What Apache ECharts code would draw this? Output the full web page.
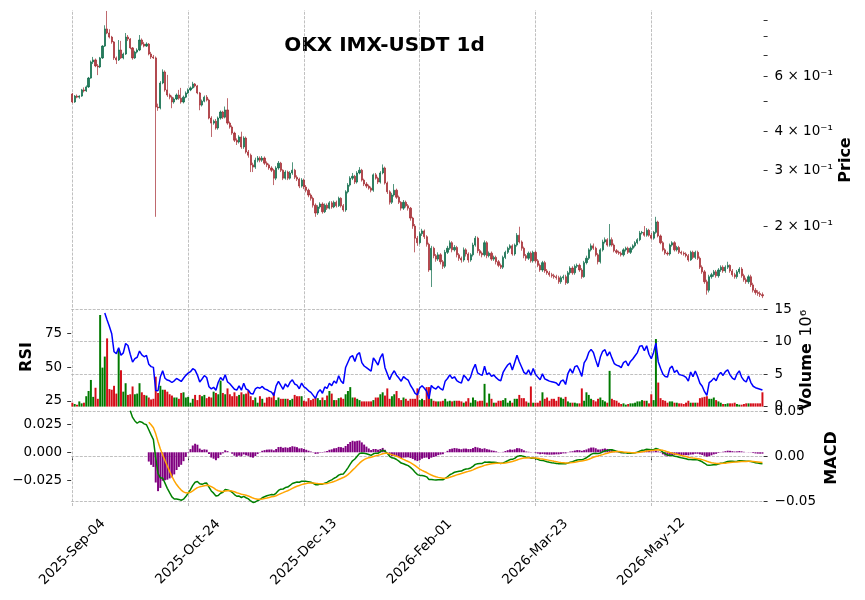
<!DOCTYPE html>
<html>
<head>
<meta charset="utf-8">
<title>OKX IMX-USDT 1d</title>
<script src="https://cdn.jsdelivr.net/npm/echarts@6/dist/echarts.min.js"></script>
<style>
  html, body { margin: 0; padding: 0; background: #fff; }
  #chart { width: 865px; height: 600px; }
</style>
</head>
<body>
<div id="chart"></div>
<script>
// daily candles from 2025-09-04 (open of a day = previous close)
const firstDay = Date.UTC(2025, 8, 4)
const firstOpen = 0.526

const closes = [
  0.496, 0.518, 0.514, 0.518, 0.542, 0.538, 0.554, 0.591, 0.665, 0.675,
  0.646, 0.641, 0.685, 0.747, 0.847, 0.822, 0.798, 0.770, 0.685, 0.675,
  0.726, 0.685, 0.705, 0.798, 0.787, 0.737, 0.685, 0.715, 0.726, 0.781,
  0.758, 0.747, 0.758, 0.705, 0.690, 0.685, 0.478, 0.475, 0.570, 0.618,
  0.542, 0.522, 0.514, 0.496, 0.507, 0.522, 0.510, 0.496, 0.514, 0.530,
  0.542, 0.550, 0.566, 0.558, 0.530, 0.485, 0.499, 0.514, 0.503, 0.441,
  0.425, 0.431, 0.410, 0.441, 0.461, 0.444, 0.468, 0.425, 0.413, 0.395,
  0.375, 0.370, 0.384, 0.357, 0.381, 0.344, 0.336, 0.313, 0.308, 0.324,
  0.329, 0.324, 0.329, 0.317, 0.313, 0.306, 0.301, 0.284, 0.306, 0.317,
  0.301, 0.284, 0.297, 0.284, 0.295, 0.301, 0.286, 0.282, 0.268, 0.280,
  0.266, 0.260, 0.251, 0.245, 0.233, 0.220, 0.230, 0.235, 0.222, 0.233,
  0.228, 0.237, 0.230, 0.238, 0.232, 0.245, 0.232, 0.225, 0.257, 0.270,
  0.284, 0.288, 0.276, 0.295, 0.301, 0.280, 0.272, 0.268, 0.264, 0.260,
  0.291, 0.284, 0.276, 0.295, 0.306, 0.274, 0.257, 0.238, 0.251, 0.260,
  0.247, 0.238, 0.228, 0.238, 0.232, 0.228, 0.212, 0.200, 0.183, 0.177,
  0.189, 0.193, 0.185, 0.175, 0.145, 0.170, 0.161, 0.157, 0.162, 0.154,
  0.149, 0.165, 0.170, 0.177, 0.168, 0.171, 0.162, 0.158, 0.156, 0.168,
  0.163, 0.156, 0.162, 0.174, 0.183, 0.167, 0.164, 0.162, 0.177, 0.161,
  0.164, 0.157, 0.159, 0.154, 0.150, 0.148, 0.159, 0.165, 0.170, 0.173,
  0.163, 0.174, 0.187, 0.178, 0.170, 0.161, 0.158, 0.164, 0.155, 0.165,
  0.155, 0.150, 0.145, 0.153, 0.144, 0.142, 0.140, 0.139, 0.138, 0.137,
  0.133, 0.137, 0.138, 0.132, 0.142, 0.147, 0.142, 0.149, 0.150, 0.145,
  0.138, 0.153, 0.158, 0.168, 0.173, 0.170, 0.162, 0.154, 0.168, 0.178,
  0.181, 0.174, 0.181, 0.174, 0.167, 0.165, 0.164, 0.162, 0.168, 0.170,
  0.165, 0.170, 0.173, 0.177, 0.181, 0.190, 0.191, 0.187, 0.194, 0.187,
  0.183, 0.191, 0.206, 0.186, 0.177, 0.168, 0.164, 0.163, 0.174, 0.177,
  0.168, 0.171, 0.165, 0.164, 0.163, 0.161, 0.156, 0.165, 0.159, 0.165,
  0.158, 0.148, 0.143, 0.133, 0.125, 0.138, 0.140, 0.143, 0.139, 0.145,
  0.148, 0.144, 0.148, 0.150, 0.144, 0.140, 0.138, 0.143, 0.146, 0.139,
  0.135, 0.133, 0.138, 0.130, 0.125, 0.123, 0.122, 0.121, 0.120
]

const highs = [
  0.530, 0.522, 0.524, 0.521, 0.546, 0.552, 0.560, 0.596, 0.672, 0.690,
  0.682, 0.655, 0.690, 0.752, 0.870, 0.966, 0.845, 0.805, 0.775, 0.692,
  0.781, 0.776, 0.712, 0.822, 0.810, 0.792, 0.742, 0.722, 0.735, 0.810,
  0.790, 0.770, 0.768, 0.764, 0.716, 0.700, 0.692, 0.490, 0.578, 0.630,
  0.625, 0.605, 0.528, 0.520, 0.513, 0.528, 0.542, 0.550, 0.520, 0.536,
  0.548, 0.556, 0.575, 0.570, 0.562, 0.534, 0.505, 0.520, 0.522, 0.508,
  0.447, 0.436, 0.438, 0.446, 0.466, 0.465, 0.480, 0.510, 0.430, 0.418,
  0.399, 0.380, 0.389, 0.399, 0.386, 0.385, 0.349, 0.340, 0.318, 0.330,
  0.334, 0.333, 0.334, 0.333, 0.321, 0.316, 0.310, 0.304, 0.310, 0.322,
  0.320, 0.303, 0.301, 0.300, 0.299, 0.319, 0.304, 0.290, 0.285, 0.284,
  0.283, 0.270, 0.263, 0.254, 0.248, 0.236, 0.233, 0.238, 0.238, 0.236,
  0.236, 0.240, 0.240, 0.241, 0.241, 0.248, 0.247, 0.235, 0.260, 0.274,
  0.288, 0.295, 0.291, 0.299, 0.308, 0.304, 0.283, 0.276, 0.271, 0.267,
  0.294, 0.295, 0.287, 0.299, 0.314, 0.309, 0.277, 0.260, 0.255, 0.272,
  0.263, 0.250, 0.240, 0.242, 0.241, 0.235, 0.230, 0.214, 0.203, 0.186,
  0.192, 0.196, 0.195, 0.187, 0.177, 0.173, 0.172, 0.163, 0.165, 0.164,
  0.156, 0.168, 0.173, 0.180, 0.179, 0.174, 0.173, 0.164, 0.160, 0.171,
  0.170, 0.165, 0.164, 0.177, 0.186, 0.185, 0.169, 0.166, 0.180, 0.179,
  0.166, 0.166, 0.161, 0.161, 0.156, 0.152, 0.161, 0.167, 0.172, 0.175,
  0.175, 0.176, 0.190, 0.199, 0.180, 0.172, 0.163, 0.166, 0.166, 0.167,
  0.167, 0.157, 0.152, 0.155, 0.155, 0.146, 0.144, 0.142, 0.141, 0.140,
  0.139, 0.139, 0.140, 0.140, 0.144, 0.149, 0.149, 0.151, 0.152, 0.152,
  0.147, 0.155, 0.161, 0.170, 0.176, 0.176, 0.172, 0.164, 0.170, 0.181,
  0.184, 0.183, 0.203, 0.184, 0.176, 0.169, 0.167, 0.166, 0.170, 0.172,
  0.172, 0.172, 0.175, 0.179, 0.183, 0.193, 0.193, 0.200, 0.197, 0.196,
  0.190, 0.193, 0.214, 0.208, 0.188, 0.179, 0.170, 0.166, 0.176, 0.179,
  0.179, 0.173, 0.173, 0.167, 0.166, 0.165, 0.163, 0.167, 0.167, 0.167,
  0.167, 0.160, 0.150, 0.145, 0.135, 0.140, 0.142, 0.145, 0.145, 0.147,
  0.150, 0.150, 0.150, 0.154, 0.151, 0.146, 0.142, 0.145, 0.148, 0.148,
  0.141, 0.137, 0.140, 0.140, 0.132, 0.127, 0.125, 0.124, 0.123
]

const lows = [
  0.492, 0.493, 0.510, 0.508, 0.515, 0.532, 0.534, 0.550, 0.588, 0.655,
  0.640, 0.604, 0.636, 0.680, 0.742, 0.815, 0.790, 0.760, 0.675, 0.655,
  0.670, 0.680, 0.678, 0.700, 0.775, 0.730, 0.676, 0.680, 0.708, 0.720,
  0.750, 0.740, 0.742, 0.698, 0.680, 0.680, 0.214, 0.465, 0.470, 0.565,
  0.535, 0.515, 0.506, 0.474, 0.490, 0.503, 0.504, 0.490, 0.491, 0.510,
  0.526, 0.537, 0.546, 0.552, 0.525, 0.467, 0.480, 0.495, 0.498, 0.437,
  0.384, 0.420, 0.405, 0.405, 0.436, 0.438, 0.440, 0.420, 0.408, 0.390,
  0.370, 0.362, 0.366, 0.352, 0.352, 0.340, 0.330, 0.297, 0.297, 0.304,
  0.319, 0.319, 0.320, 0.313, 0.308, 0.302, 0.297, 0.270, 0.280, 0.302,
  0.297, 0.280, 0.281, 0.280, 0.281, 0.291, 0.282, 0.278, 0.264, 0.265,
  0.262, 0.256, 0.247, 0.241, 0.229, 0.214, 0.217, 0.227, 0.219, 0.220,
  0.225, 0.226, 0.227, 0.228, 0.229, 0.230, 0.229, 0.222, 0.222, 0.254,
  0.267, 0.280, 0.272, 0.273, 0.292, 0.277, 0.268, 0.264, 0.261, 0.256,
  0.257, 0.281, 0.272, 0.273, 0.292, 0.271, 0.253, 0.234, 0.235, 0.248,
  0.244, 0.235, 0.224, 0.225, 0.229, 0.224, 0.208, 0.196, 0.165, 0.173,
  0.175, 0.186, 0.182, 0.172, 0.143, 0.128, 0.158, 0.154, 0.155, 0.151,
  0.146, 0.147, 0.163, 0.168, 0.165, 0.166, 0.159, 0.155, 0.153, 0.154,
  0.160, 0.153, 0.154, 0.160, 0.172, 0.164, 0.161, 0.159, 0.160, 0.158,
  0.159, 0.155, 0.155, 0.151, 0.148, 0.146, 0.146, 0.157, 0.163, 0.168,
  0.161, 0.161, 0.172, 0.176, 0.167, 0.158, 0.155, 0.156, 0.153, 0.153,
  0.153, 0.148, 0.143, 0.143, 0.142, 0.140, 0.138, 0.137, 0.136, 0.135,
  0.131, 0.131, 0.135, 0.130, 0.131, 0.140, 0.140, 0.140, 0.147, 0.143,
  0.136, 0.137, 0.151, 0.156, 0.166, 0.168, 0.160, 0.151, 0.152, 0.166,
  0.176, 0.172, 0.172, 0.172, 0.165, 0.163, 0.162, 0.160, 0.160, 0.166,
  0.163, 0.163, 0.168, 0.171, 0.175, 0.179, 0.188, 0.185, 0.185, 0.185,
  0.181, 0.181, 0.189, 0.184, 0.175, 0.166, 0.162, 0.161, 0.161, 0.172,
  0.166, 0.166, 0.163, 0.162, 0.161, 0.159, 0.154, 0.155, 0.157, 0.157,
  0.156, 0.146, 0.141, 0.131, 0.121, 0.123, 0.136, 0.138, 0.137, 0.137,
  0.143, 0.142, 0.142, 0.146, 0.142, 0.138, 0.136, 0.136, 0.141, 0.137,
  0.133, 0.131, 0.131, 0.128, 0.123, 0.121, 0.120, 0.119, 0.118
]

// volume in millions
const volumes = [
  0.6, 0.4, 0.3, 0.8, 0.5, 0.6, 1.6, 2.4, 4.1, 1.5,
  2.9, 1.2, 14.1, 6.0, 7.7, 10.5, 2.7, 2.6, 3.2, 2.0,
  8.8, 5.6, 2.3, 3.6, 1.8, 1.9, 3.1, 1.9, 2.0, 3.6,
  2.2, 1.8, 1.7, 1.4, 1.1, 1.2, 4.6, 2.1, 3.2, 2.6,
  2.6, 2.3, 1.9, 1.7, 1.4, 1.4, 1.2, 2.1, 2.2, 1.4,
  1.5, 0.6, 1.2, 1.8, 1.0, 1.8, 1.6, 1.8, 1.3, 1.5,
  1.4, 2.3, 2.1, 1.9, 4.0, 2.1, 1.9, 2.8, 1.9, 1.6,
  2.2, 1.6, 1.8, 2.2, 1.9, 2.0, 2.5, 1.6, 1.0, 1.4,
  0.6, 1.6, 1.2, 0.6, 1.4, 1.5, 1.4, 2.2, 1.0, 1.4,
  1.2, 1.2, 1.2, 1.2, 1.0, 1.2, 1.8, 1.6, 1.6, 1.6,
  0.9, 0.8, 1.3, 1.0, 1.2, 1.4, 1.3, 1.0, 1.4, 1.0,
  1.7, 2.4, 2.0, 1.0, 1.0, 1.3, 1.4, 1.2, 1.9, 2.4,
  3.0, 1.4, 1.4, 1.2, 1.0, 0.8, 0.8, 0.8, 0.8, 0.8,
  1.0, 1.4, 1.4, 1.9, 2.2, 1.7, 2.8, 1.2, 1.6, 1.9,
  2.4, 1.3, 1.0, 1.4, 1.2, 0.9, 1.2, 1.2, 1.2, 2.8,
  1.0, 1.2, 1.0, 3.0, 3.0, 1.2, 0.9, 0.8, 0.8, 0.8,
  0.9, 1.2, 0.8, 0.9, 0.8, 0.9, 0.9, 0.9, 0.8, 0.6,
  0.8, 1.3, 0.6, 1.4, 1.0, 0.8, 0.9, 0.9, 3.5, 0.6,
  2.0, 1.2, 0.6, 0.6, 0.9, 0.9, 1.0, 1.3, 0.6, 0.9,
  0.6, 1.2, 1.2, 1.8, 1.3, 1.3, 0.8, 0.6, 3.1, 0.6,
  0.6, 0.6, 0.9, 2.2, 1.2, 1.4, 0.9, 1.2, 1.2, 0.9,
  1.5, 1.4, 1.2, 1.5, 0.8, 0.6, 0.6, 0.6, 0.5, 0.5,
  2.8, 0.9, 2.2, 1.8, 1.2, 1.0, 0.8, 1.2, 1.4, 1.0,
  0.8, 0.6, 5.5, 1.2, 1.0, 0.9, 0.6, 0.4, 0.5, 0.3,
  0.4, 0.5, 0.5, 0.6, 0.8, 0.8, 1.0, 0.9, 0.9, 0.5,
  1.9, 1.0, 10.4, 3.7, 1.3, 1.0, 0.9, 0.6, 0.8, 0.8,
  0.6, 0.6, 0.5, 0.5, 0.4, 0.6, 0.9, 0.6, 0.6, 0.6,
  0.6, 1.3, 1.4, 1.5, 1.6, 1.2, 1.2, 1.4, 1.0, 0.8,
  0.6, 0.4, 0.4, 0.5, 0.5, 0.5, 0.6, 0.4, 0.3, 0.3,
  0.4, 0.5, 0.5, 0.5, 0.5, 0.5, 0.5, 0.5, 2.2
]

const xTickLabels = ['2025-Sep-04', '2025-Oct-24', '2025-Dec-13', '2026-Feb-01', '2026-Mar-23', '2026-May-12']
const priceTicks = [0.2, 0.3, 0.4, 0.6]
const priceMinorTicks = [0.5, 0.7, 0.8, 0.9]
const rsiTicks = [25, 50, 75]
const volumeTicks = [0, 5, 10, 15]
const macdTicks = [-0.05, 0, 0.05]
const histTicks = [-0.025, 0, 0.025]

const MONTHS = ['Jan', 'Feb', 'Mar', 'Apr', 'May', 'Jun', 'Jul', 'Aug', 'Sep', 'Oct', 'Nov', 'Dec']
const dates = closes.map((_, i) => {
  const d = new Date(firstDay + i * 86400000)
  return d.getUTCFullYear() + '-' + MONTHS[d.getUTCMonth()] + '-' + String(d.getUTCDate()).padStart(2, '0')
})
const opens = closes.map((c, i) => (i === 0 ? firstOpen : closes[i - 1]))

// indicators the way the chart computes them: RSI(14), MACD(12, 26, 9)
function calcRsi(c, n) {
  const out = c.map(() => null)
  let g = 0, l = 0
  for (let i = 1; i <= n; i++) {
    const d = c[i] - c[i - 1]
    if (d > 0) g += d; else l -= d
  }
  g /= n; l /= n
  out[n] = 100 - 100 / (1 + g / l)
  for (let i = n + 1; i < c.length; i++) {
    const d = c[i] - c[i - 1]
    g = (g * (n - 1) + Math.max(d, 0)) / n
    l = (l * (n - 1) + Math.max(-d, 0)) / n
    out[i] = l === 0 ? 100 : 100 - 100 / (1 + g / l)
  }
  return out
}
// recursive ema, hidden until `span` values have been seen
function ema(vals, span) {
  const a = 2 / (span + 1)
  let y = null, cnt = 0
  return vals.map(v => {
    if (v == null) return null
    y = y == null ? v : (1 - a) * y + a * v
    cnt++
    return cnt >= span ? y : null
  })
}
const rsi = calcRsi(closes, 14)
const ema12 = ema(closes, 12)
const ema26 = ema(closes, 26)
const macd = closes.map((_, i) => (ema12[i] == null || ema26[i] == null ? null : ema12[i] - ema26[i]))
const signal = ema(macd, 9)
const hist = macd.map((m, i) => (m == null || signal[i] == null ? null : m - signal[i]))

const UP = '#006340', DOWN = '#a02128'
const VOL_UP = '#007a00', VOL_DOWN = '#d50d18'
const font = { fontFamily: 'DejaVu Sans', fontSize: 13.5, color: '#000' }
const tickLine = { color: '#000', width: 0.8 }
const minus = s => s.replace('-', '\u2212')
const tickSet = new Set(xTickLabels)

const LEFT = 71.2, WIDTH = 692.4
const grids = [
  { left: LEFT, width: WIDTH, top: 10, height: 297.2 },
  { left: LEFT, width: WIDTH, top: 307.2, height: 99.4 },
  { left: LEFT, width: WIDTH, top: 406.6, height: 99.4 }
]

function gridLines(extra) {
  return {
    silent: true,
    symbol: ['none', 'none'],
    z: 1,
    animation: false,
    label: { show: false },
    emphasis: { disabled: true },
    lineStyle: { color: '#b0b0b0', type: [3, 1.3], width: 0.8 },
    data: xTickLabels.map(d => ({ xAxis: d })).concat(extra || [])
  }
}

const xAxes = [0, 1, 2].map(k => ({
  type: 'category',
  gridIndex: k,
  data: dates,
  boundaryGap: true,
  axisLine: { show: false },
  axisTick: {
    show: k === 2, alignWithLabel: true, length: 4, lineStyle: tickLine,
    interval: (i, v) => tickSet.has(v)
  },
  axisLabel: {
    show: k === 2, rotate: 45, align: 'center', verticalAlign: 'middle', margin: 46,
    interval: (i, v) => tickSet.has(v), ...font
  },
  splitLine: { show: false }
}))

const yAxes = [
  {
    type: 'log', logBase: 10, gridIndex: 0, position: 'right', min: 0.1104, max: 0.9729,
    axisLine: { show: false },
    axisTick: { show: true, length: 4, lineStyle: tickLine, customValues: priceTicks.concat(priceMinorTicks) },
    axisLabel: { customValues: priceTicks, margin: 11, formatter: v => Math.round(v * 10) + ' \u00d7 10\u207b\u00b9', ...font },
    splitLine: { show: false }
  },
  {
    type: 'value', gridIndex: 1, position: 'left', min: 20.8, max: 94.6,
    axisLine: { show: false },
    axisTick: { show: true, length: 4, lineStyle: tickLine, customValues: rsiTicks },
    axisLabel: { customValues: rsiTicks, margin: 9, ...font },
    splitLine: { show: false }
  },
  {
    type: 'value', gridIndex: 1, position: 'right', min: 0, max: 15.3,
    axisLine: { show: false },
    axisTick: { show: true, length: 4, lineStyle: tickLine, customValues: volumeTicks },
    axisLabel: { customValues: volumeTicks, margin: 11, ...font },
    splitLine: { show: false }
  },
  {
    type: 'value', gridIndex: 2, position: 'right', min: -0.0549, max: 0.0549,
    axisLine: { show: false },
    axisTick: { show: true, length: 4, lineStyle: tickLine, customValues: macdTicks },
    axisLabel: { customValues: macdTicks, margin: 11, formatter: v => minus(v.toFixed(2)), ...font },
    splitLine: { show: false }
  },
  {
    type: 'value', gridIndex: 2, position: 'left', min: -0.0483, max: 0.0411,
    axisLine: { show: false },
    axisTick: { show: true, length: 4, lineStyle: tickLine, customValues: histTicks },
    axisLabel: { customValues: histTicks, margin: 9, formatter: v => minus(v.toFixed(3)), ...font },
    splitLine: { show: false }
  }
]

const chart = echarts.init(document.getElementById('chart'))

chart.setOption({
  animation: false,
  backgroundColor: '#fff',
  textStyle: { fontFamily: 'DejaVu Sans' },
  grid: grids,
  xAxis: xAxes,
  yAxis: yAxes,
  series: [
    {
      type: 'candlestick',
      xAxisIndex: 0,
      yAxisIndex: 0,
      barWidth: '72%',
      data: closes.map((c, i) => [opens[i], c, lows[i], highs[i]]),
      itemStyle: { color: UP, color0: DOWN, borderColor: UP, borderColor0: DOWN, borderWidth: 0.8, opacity: 0.85 },
      markLine: gridLines()
    },
    {
      type: 'bar',
      xAxisIndex: 1,
      yAxisIndex: 2,
      barWidth: '85%',
      data: volumes.map((v, i) => ({ value: v, itemStyle: { color: closes[i] >= opens[i] ? VOL_UP : VOL_DOWN } })),
      markLine: gridLines(volumeTicks.filter(v => v > 0).map(v => ({ yAxis: v })))
    },
    {
      type: 'line',
      xAxisIndex: 1,
      yAxisIndex: 1,
      data: rsi,
      showSymbol: false,
      z: 3,
      lineStyle: { color: '#0000ff', width: 1.5 }
    },
    {
      type: 'bar',
      xAxisIndex: 2,
      yAxisIndex: 4,
      barWidth: '85%',
      data: hist,
      itemStyle: { color: '#800080' }
    },
    {
      type: 'line',
      xAxisIndex: 2,
      yAxisIndex: 3,
      data: macd,
      showSymbol: false,
      z: 3,
      lineStyle: { color: '#008000', width: 1.5 },
      markLine: gridLines(macdTicks.map(v => ({ yAxis: v })))
    },
    {
      type: 'line',
      xAxisIndex: 2,
      yAxisIndex: 3,
      data: signal,
      showSymbol: false,
      z: 3,
      lineStyle: { color: '#ffa500', width: 1.5 }
    }
  ],
  graphic: [
    {
      type: 'text', x: 384.5, y: 46,
      style: { text: 'OKX IMX-USDT 1d', align: 'center', verticalAlign: 'middle', textAlign: 'center', textVerticalAlign: 'middle', font: 'bold 20px "DejaVu Sans"', fill: '#000' }
    },
    {
      type: 'text', x: 846, y: 160, rotation: Math.PI / 2,
      style: { text: 'Price', align: 'center', verticalAlign: 'middle', textAlign: 'center', textVerticalAlign: 'middle', font: 'bold 16px "DejaVu Sans"', fill: '#000' }
    },
    {
      type: 'text', x: 27, y: 357, rotation: Math.PI / 2,
      style: { text: 'RSI', align: 'center', verticalAlign: 'middle', textAlign: 'center', textVerticalAlign: 'middle', font: 'bold 16px "DejaVu Sans"', fill: '#000' }
    },
    {
      type: 'text', x: 806.5, y: 360, rotation: Math.PI / 2,
      style: {
        text: '{b|Volume}  {n|10\u2076}',
        align: 'center', verticalAlign: 'middle', textAlign: 'center', textVerticalAlign: 'middle',
        rich: {
          b: { fontFamily: 'DejaVu Sans', fontWeight: 'bold', fontSize: 16, fill: '#000', color: '#000' },
          n: { fontFamily: 'DejaVu Sans', fontSize: 16, fill: '#000', color: '#000' }
        }
      }
    },
    {
      type: 'text', x: 831.5, y: 458, rotation: Math.PI / 2,
      style: { text: 'MACD', align: 'center', verticalAlign: 'middle', textAlign: 'center', textVerticalAlign: 'middle', font: 'bold 16px "DejaVu Sans"', fill: '#000' }
    }
  ]
})

window.addEventListener('resize', () => chart.resize())
</script>
</body>
</html>
